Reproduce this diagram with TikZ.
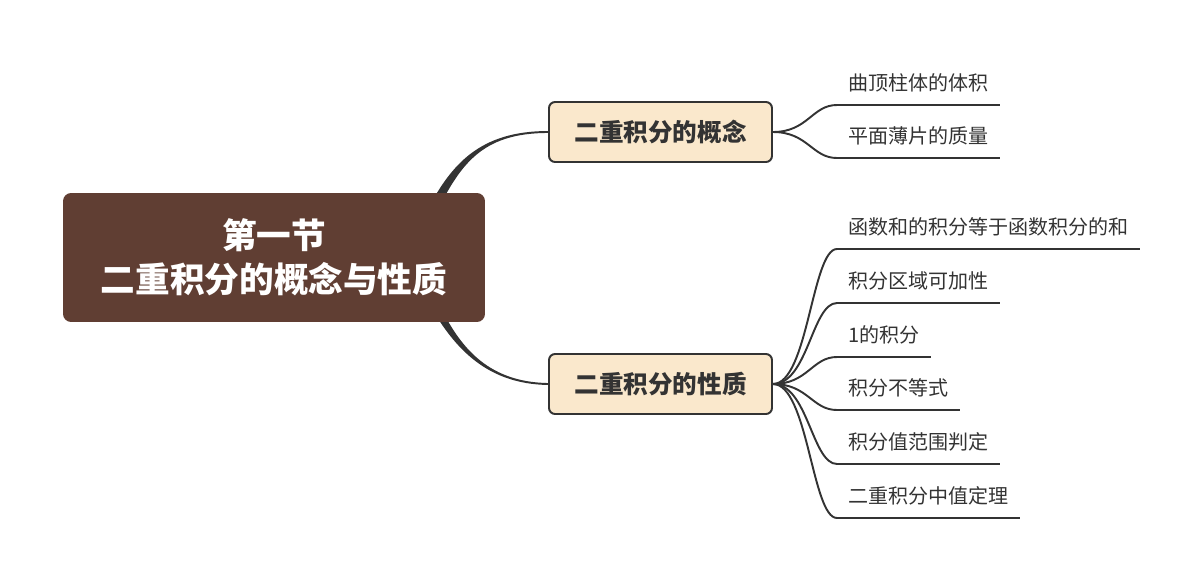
\documentclass[tikz,border=0pt]{standalone}
\usepackage{fontspec}
\setmainfont{Noto Sans CJK SC}
\usepackage{xcolor}
\usetikzlibrary{backgrounds}
\definecolor{bark}{RGB}{96,62,51}
\definecolor{cream}{RGB}{250,232,204}
\definecolor{ink}{RGB}{51,51,51}

\begin{document}
\begin{tikzpicture}[x=0.02cm,y=-0.02cm,line join=round,
  rootbox/.style={fill=bark,rounded corners=0.16cm,minimum width=8.44cm,minimum height=2.58cm,text=white,align=center,font=\fontsize{19.7}{25}\selectfont\bfseries},
  topic/.style={fill=cream,draw=ink,line width=1.1pt,rounded corners=0.12cm,minimum width=4.46cm,minimum height=1.2cm,text=ink,font=\fontsize{14}{17}\selectfont\bfseries},
  leaf/.style={anchor=south west,inner xsep=0.22cm,inner ysep=0.2cm,text height=0.32cm,text depth=0.08cm,text=ink,font=\fontsize{11.4}{14}\selectfont},
  twig/.style={draw=ink,line width=1.1pt,out=0,in=180,out distance=0.7cm,in distance=0.5cm},
  stem/.style={draw=ink,line width=1.1pt}]
  \useasboundingbox (0,0) rectangle (1200,582);
  % the section and its two topics
  \node[rootbox] (sec) at (274,257.5) {第一节\\二重积分的概念与性质};
  \node[topic] (concept) at (660.5,132) {二重积分的概念};
  \node[topic] (prop) at (660.5,384) {二重积分的性质};
  % tapered branches, hidden under the section box at their start
  \begin{pgfonlayer}{background}
    \filldraw[ink,line width=1.1pt] (426,215) .. controls (451,165) and (480,132) .. (concept.west) .. controls (480,132) and (459,165) .. (434,215) -- cycle;
    \filldraw[ink,line width=1.1pt] (428,300) .. controls (453,345) and (485,383) .. (prop.west) .. controls (485,383) and (457,345) .. (436,300) -- cycle;
  \end{pgfonlayer}
  % leaves of the first topic
  \foreach \i/\y/\t in {1/105/曲顶柱体的体积,2/158/平面薄片的质量}{
    \node[leaf] (c\i) at (837,\y) {\t};
    \draw[twig] (concept.east) to (c\i.south west);
    \draw[stem] (c\i.south west) -- (c\i.south east);
  }
  % leaves of the second topic
  \foreach \i/\y/\t in {1/249/函数和的积分等于函数积分的和,2/303/积分区域可加性,3/357/1的积分,4/410/积分不等式,5/464/积分值范围判定,6/518/二重积分中值定理}{
    \node[leaf] (p\i) at (837,\y) {\t};
    \draw[twig] (prop.east) to (p\i.south west);
    \draw[stem] (p\i.south west) -- (p\i.south east);
  }
\end{tikzpicture}
\end{document}
